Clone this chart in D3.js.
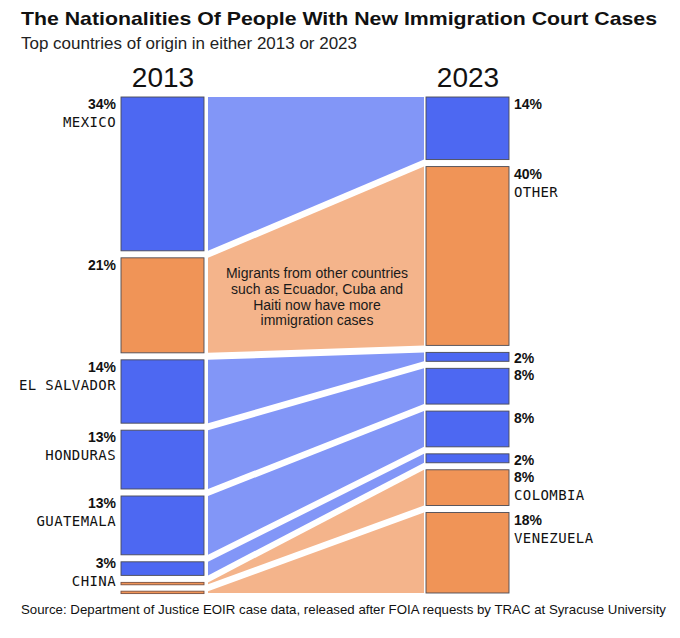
<!DOCTYPE html>
<html>
<head>
<meta charset="utf-8">
<script src="https://cdn.jsdelivr.net/npm/d3@7"></script>
<style>
  body { margin: 0; background: #fff; }
  svg { display: block; }
</style>
</head>
<body>
<script>
// chart data
var countries = ['Mexico', 'Other', 'El Salvador', 'Honduras', 'Guatemala', 'China', 'Colombia', 'Venezuela'];
var share2013 = [34, 21, 14, 13, 13, 3, 0.4, 0.4];
var share2023 = [14, 40, 2, 8, 8, 2, 8, 18];
// blue = top origin in 2013, orange = top origin in 2023 (incl. other)
var topIn = ['2013', '2023', '2013', '2013', '2013', '2013', '2023', '2023'];
var years = ['2013', '2023'];
var note = ['Migrants from other countries', 'such as Ecuador, Cuba and', 'Haiti now have more', 'immigration cases'];

var W = 680, H = 638;
var top0 = 97, bot0 = 593, gap = 7;
var barW = 84;
var colX = {'2013': 121, '2023': 426};

var barColor = {'2013': '#4d68f2', '2023': '#f09457'};
var flowColor = {'2013': '#8296f7', '2023': '#f4b48b'};

var svg = d3.select('body').append('svg')
    .attr('width', W)
    .attr('height', H);

// stack each year on its own scale
function stack(vals) {
    var total = d3.sum(vals);
    var y = d3.scaleLinear()
        .domain([0, total])
        .range([0, (bot0 - top0) - gap * (vals.length - 1)]);
    var out = [], acc = 0;
    vals.forEach(function(v, i) {
        var y0 = top0 + y(acc) + gap * i;
        out.push({y0: y0, y1: y0 + y(v), v: v});
        acc += v;
    });
    return out;
}

var left = stack(share2013);
var right = stack(share2023);

var rows = countries.map(function(c, i) {
    return {name: c, top: topIn[i], l: left[i], r: right[i]};
});

// flows
var area = d3.area()
    .x(function(d) { return d.x; })
    .y0(function(d) { return d.y0; })
    .y1(function(d) { return d.y1; })
    .curve(d3.curveLinear);

svg.append('g').attr('id', 'flows')
    .selectAll('path')
    .data(rows)
    .enter()
    .append('path')
    .attr('d', function(d) {
        return area([
            {x: colX['2013'] + barW + 3, y0: d.l.y0, y1: d.l.y1},
            {x: colX['2023'] - 2, y0: d.r.y0, y1: d.r.y1}
        ]);
    })
    .attr('fill', function(d) { return flowColor[d.top]; });

// bars
var bars = svg.append('g').attr('id', 'bars');
years.forEach(function(yr) {
    bars.selectAll('rect.y' + yr)
        .data(rows)
        .enter()
        .append('rect')
        .attr('class', 'y' + yr)
        .attr('x', colX[yr])
        .attr('y', function(d) { return (yr == '2013' ? d.l : d.r).y0; })
        .attr('width', barW - 1)
        .attr('height', function(d) { var s = yr == '2013' ? d.l : d.r; return Math.max(2.4, s.y1 - s.y0); })
        .attr('fill', function(d) { return barColor[d.top]; })
        .attr('stroke', function(d) {
            var s = yr == '2013' ? d.l : d.r;
            return s.y1 - s.y0 < 3 ? '#7a5040' : '#4b4b55';
        })
        .attr('stroke-width', 0.9);
});

// labels
var labs = svg.append('g').attr('id', 'labels');
function label(d, yr) {
    var s = yr == '2013' ? d.l : d.r;
    if (s.v < 1) return;
    var isLeft = yr == '2013';
    var x = isLeft ? colX[yr] - 5 : colX[yr] + barW + 4;
    var anchor = isLeft ? 'end' : 'start';
    var showName = d.top == yr;
    var h = s.y1 - s.y0;
    var py = s.y0 + 12, ny = s.y0 + 30;
    if (showName && h < 25) { py = s.y0 + 6; ny = s.y0 + 24; }
    if (!showName && h < 12) { py = s.y0 + 11; }
    labs.append('text')
        .attr('x', x).attr('y', py)
        .attr('text-anchor', anchor)
        .style('font', 'bold 14px "Liberation Sans", Arial, sans-serif')
        .style('fill', '#111')
        .text(Math.round(s.v) + '%');
    if (showName) {
        labs.append('text')
            .attr('x', x).attr('y', ny)
            .attr('text-anchor', anchor)
            .style('font', '14px "DejaVu Sans Mono", monospace')
            .style('letter-spacing', '0.4px')
            .style('fill', '#111')
            .text(d.name.toUpperCase());
    }
}
rows.forEach(function(d) { label(d, '2013'); label(d, '2023'); });

// year headers
svg.append('g').selectAll('text')
    .data(years)
    .enter()
    .append('text')
    .attr('x', function(d) { return colX[d] + barW / 2; })
    .attr('y', 87)
    .attr('text-anchor', 'middle')
    .style('font', '28px "Liberation Sans", Arial, sans-serif')
    .style('fill', '#111')
    .text(function(d) { return d; });

// annotation
svg.append('g').selectAll('text')
    .data(note)
    .enter()
    .append('text')
    .attr('x', 317)
    .attr('y', function(d, i) { return 278 + i * 15.8; })
    .attr('text-anchor', 'middle')
    .style('font', '14px "Liberation Sans", Arial, sans-serif')
    .style('fill', '#1a1a1a')
    .text(function(d) { return d; });

// title, subtitle, source
svg.append('text')
    .attr('x', 21).attr('y', 25)
    .attr('textLength', 636).attr('lengthAdjust', 'spacingAndGlyphs')
    .style('font', 'bold 19px "Liberation Sans", Arial, sans-serif')
    .style('fill', '#111')
    .text('The Nationalities Of People With New Immigration Court Cases');

svg.append('text')
    .attr('x', 21).attr('y', 49)
    .attr('textLength', 336).attr('lengthAdjust', 'spacingAndGlyphs')
    .style('font', '16.5px "Liberation Sans", Arial, sans-serif')
    .style('fill', '#222')
    .text('Top countries of origin in either 2013 or 2023');

svg.append('text')
    .attr('x', 21).attr('y', 614)
    .attr('textLength', 645).attr('lengthAdjust', 'spacingAndGlyphs')
    .style('font', '13.5px "Liberation Sans", Arial, sans-serif')
    .style('fill', '#111')
    .text('Source: Department of Justice EOIR case data, released after FOIA requests by TRAC at Syracuse University');
</script>
</body>
</html>
